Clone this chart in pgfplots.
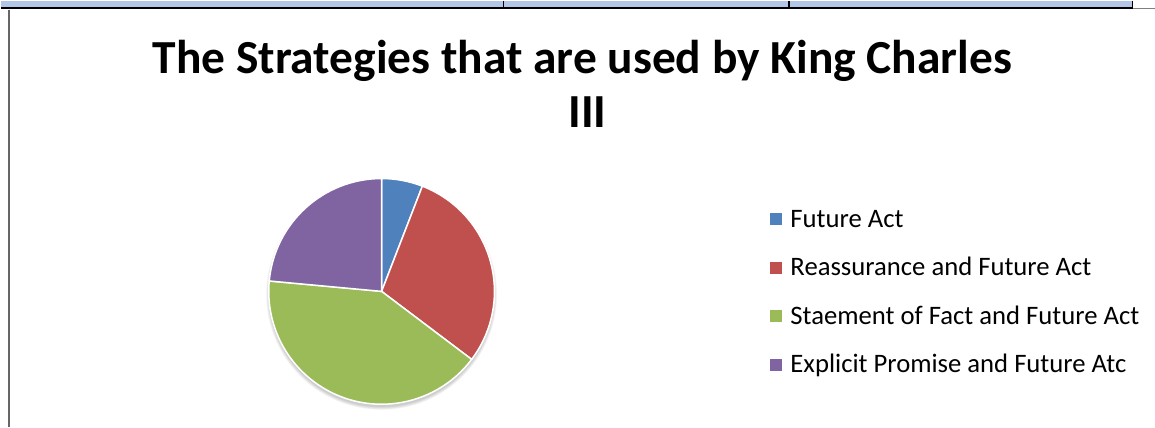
\documentclass[border=0pt]{standalone}
\usepackage{pgfplots}
\pgfplotsset{compat=1.18}
\usepackage{pgfplotstable}
\usepackage{fontspec}
\setmainfont{Carlito}
\definecolor{cBlue}{HTML}{4F81BD}
\definecolor{cRed}{HTML}{C0504D}
\definecolor{cGreen}{HTML}{9BBB59}
\definecolor{cPurple}{HTML}{8064A2}
\definecolor{band}{HTML}{B4C6E7}
\pgfplotstableread{
idx value color
0 1 cBlue
1 5 cRed
2 7 cGreen
3 4 cPurple
}\piedata
\begin{document}
\begin{tikzpicture}
\begin{axis}[
  width=1155bp, height=427bp, scale only axis,
  xmin=0, xmax=1155, ymin=0, ymax=427, y dir=reverse,
  axis lines=none, clip=false,
  legend style={at={(axis cs:770,210)}, anchor=north west, draw=none, fill=none,
    font=\fontsize{26.7bp}{31bp}\selectfont, inner sep=0pt, outer sep=0pt,
    row sep=25.5bp, legend cell align=left,
    nodes={inner sep=0pt, text height=17bp, text depth=6bp},
    /tikz/every odd column/.append style={column sep=9bp}},
  legend image code/.code={\fill[#1] (0bp,-2.5bp) rectangle (11bp,8.5bp);},
]
% top band
\fill[band] (axis cs:0,0) rectangle (axis cs:1133,6);
\draw[black, line width=2.2bp] (axis cs:0,7) -- (axis cs:1133,7);
\draw[black, line width=1.5bp] (axis cs:503,0) -- (axis cs:503,7);
\draw[black, line width=1.5bp] (axis cs:789,0) -- (axis cs:789,7);
\draw[black, line width=1.5bp] (axis cs:1133,0) -- (axis cs:1133,8);
\draw[gray, line width=0.8bp] (axis cs:1133,8) -- (axis cs:1155,8);
\draw[gray!80!black, line width=1.6bp] (axis cs:8,9) -- (axis cs:8,427);
% title
\node[font=\fontsize{47.5bp}{56bp}\selectfont\bfseries, anchor=base] at (axis cs:582,73) {The Strategies that are used by King Charles};
\node[font=\fontsize{47.5bp}{56bp}\selectfont\bfseries, anchor=base] at (axis cs:587,127) {III};
% shadow
\pgfplotsinvokeforeach{1,...,6}{
  \fill[black, opacity=0.035] (axis cs:381,294) circle[radius={112bp+#1*0.6bp}];
}
% pie slices
\pgfmathsetmacro{\cum}{0}
\pgfplotsforeachungrouped \i in {0,...,3}{
  \pgfplotstablegetelem{\i}{value}\of\piedata
  \let\v\pgfplotsretval
  \pgfplotstablegetelem{\i}{color}\of\piedata
  \let\c\pgfplotsretval
  \pgfmathsetmacro{\a}{90-\cum*360/17}
  \pgfmathsetmacro{\b}{90-(\cum+\v)*360/17}
  \edef\temp{\noexpand\fill[\c, draw=white, line width=1.5bp, line join=round] (axis cs:381,291) -- ++(\a:113bp) arc[start angle=\a, end angle=\b, radius=113bp] -- cycle;}
  \temp
  \pgfmathsetmacro{\cum}{\cum+\v}
  \global\let\cum\cum
}
\addlegendimage{cBlue}\addlegendentry{Future Act}
\addlegendimage{cRed}\addlegendentry{Reassurance and Future Act}
\addlegendimage{cGreen}\addlegendentry{Staement of Fact and Future Act}
\addlegendimage{cPurple}\addlegendentry{Explicit Promise and Future Atc}
\end{axis}
\end{tikzpicture}
\end{document}
